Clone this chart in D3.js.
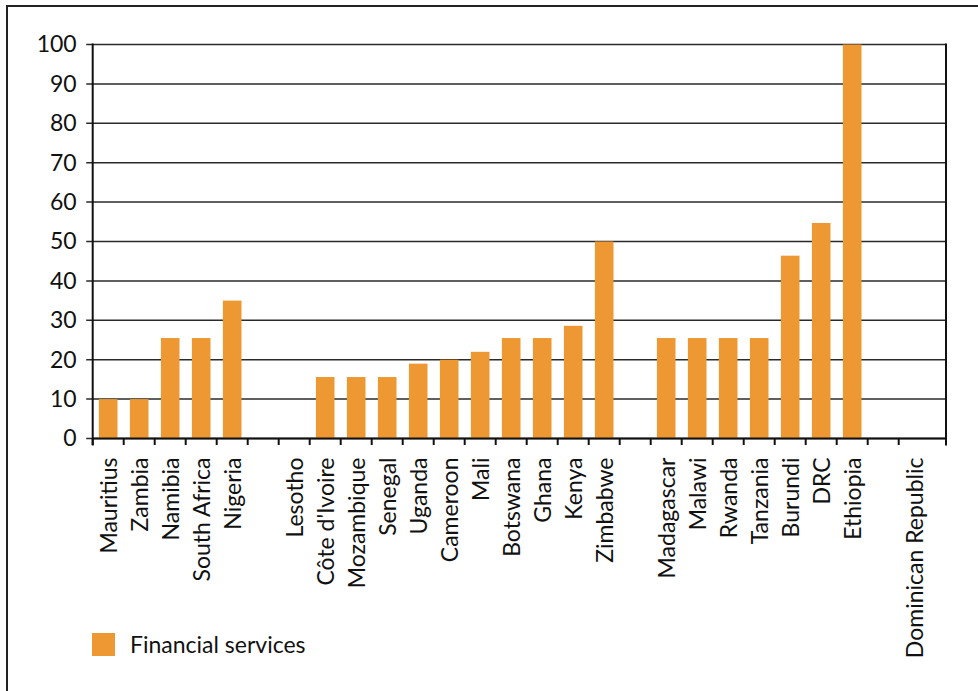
<!DOCTYPE html>
<html>
<head>
<meta charset="utf-8">
<script src="https://cdn.jsdelivr.net/npm/d3@7"></script>
<style>
  html, body { margin: 0; padding: 0; background: #fff; }
  svg { display: block; }
  text { font-family: Lato, "Open Sans", sans-serif; fill: #111; }
</style>
</head>
<body>
<svg id="chart" width="978" height="691"></svg>
<script>
// Countries in display order; empty strings are spacer slots between groups
const countries = [
  "Mauritius", "Zambia", "Namibia", "South Africa", "Nigeria", "",
  "Lesotho", "Côte d'Ivoire", "Mozambique", "Senegal", "Uganda", "Cameroon",
  "Mali", "Botswana", "Ghana", "Kenya", "Zimbabwe", "",
  "Madagascar", "Malawi", "Rwanda", "Tanzania", "Burundi", "DRC", "Ethiopia", "",
  "Dominican Republic"
];
// Financial services values (null = spacer)
const financialServices = [
  10, 10, 25.5, 25.5, 35, null,
  0, 15.6, 15.6, 15.6, 19, 20,
  22, 25.5, 25.5, 28.6, 50, null,
  25.5, 25.5, 25.5, 25.5, 46.4, 54.7, 100, null,
  0
];
const yTicks = [0, 10, 20, 30, 40, 50, 60, 70, 80, 90, 100];
const seriesName = "Financial services";
const barColor = "#ED9833";
const fontSize = "23px";

const svg = d3.select("#chart");

// Outer frame (left and top edges)
svg.append("path")
  .attr("d", "M7,691 V6 H978")
  .attr("fill", "none")
  .attr("stroke", "#222")
  .attr("stroke-width", 2);

const plotLeft = 92.7, plotRight = 946, plotTop = 44.5, plotBottom = 438.5;
const step = 31;

const x = d3.scaleBand()
  .domain(d3.range(countries.length))
  .range([plotLeft, plotLeft + step * countries.length])
  .paddingInner(0.4)
  .paddingOuter(0.2);

const y = d3.scaleLinear().domain([0, 100]).range([plotBottom, plotTop]);

// Value labels on the left
const yAxis = d3.axisLeft(y).tickValues(yTicks).tickSize(0).tickPadding(16);
const gy = svg.append("g").attr("transform", `translate(${plotLeft},0)`).call(yAxis);
gy.select(".domain").remove();
gy.selectAll("text").style("font-size", fontSize).attr("fill", "#111");

// Horizontal gridlines with outward ticks
svg.append("g").selectAll("line")
  .data(yTicks)
  .join("line")
  .attr("x1", plotLeft - 6.5)
  .attr("x2", plotRight)
  .attr("y1", d => y(d))
  .attr("y2", d => y(d))
  .attr("stroke", "#2a2a2a")
  .attr("stroke-width", 1.5);

// Bars
svg.append("g").selectAll("rect")
  .data(financialServices.map((v, i) => ({ i, v })).filter(d => d.v))
  .join("rect")
  .attr("x", d => x(d.i))
  .attr("width", x.bandwidth())
  .attr("y", d => y(d.v))
  .attr("height", d => y(0) - y(d.v))
  .attr("fill", barColor);

// Category ticks at slot boundaries
svg.append("g").selectAll("line")
  .data(d3.range(countries.length))
  .join("line")
  .attr("x1", i => x(i) - x.step() * 0.2)
  .attr("x2", i => x(i) - x.step() * 0.2)
  .attr("y1", plotBottom)
  .attr("y2", plotBottom + 6.5)
  .attr("stroke", "#111")
  .attr("stroke-width", 2);

// Axis lines: left, bottom, right
svg.append("path")
  .attr("d", `M${plotLeft},${plotTop - 1} V${plotBottom + 7} M${plotLeft},${plotBottom} H${plotRight} M${plotRight},${plotTop - 1} V${plotBottom + 7}`)
  .attr("fill", "none")
  .attr("stroke", "#111")
  .attr("stroke-width", 2);

// Rotated category labels
svg.append("g").selectAll("text")
  .data(countries.map((c, i) => ({ c, i })).filter(d => d.c))
  .join("text")
  .attr("transform", d => `translate(${x(d.i) + x.bandwidth() / 2 + 1},${plotBottom + 19}) rotate(-90)`)
  .attr("text-anchor", "end")
  .attr("dy", "0.36em")
  .style("font-size", fontSize)
  .text(d => d.c);

// Legend
const legend = svg.append("g").attr("transform", "translate(92,633)");
legend.append("rect").attr("width", 23).attr("height", 23).attr("fill", barColor);
legend.append("text")
  .attr("x", 38)
  .attr("y", 20)
  .style("font-size", fontSize)
  .text(seriesName);
</script>
</body>
</html>
